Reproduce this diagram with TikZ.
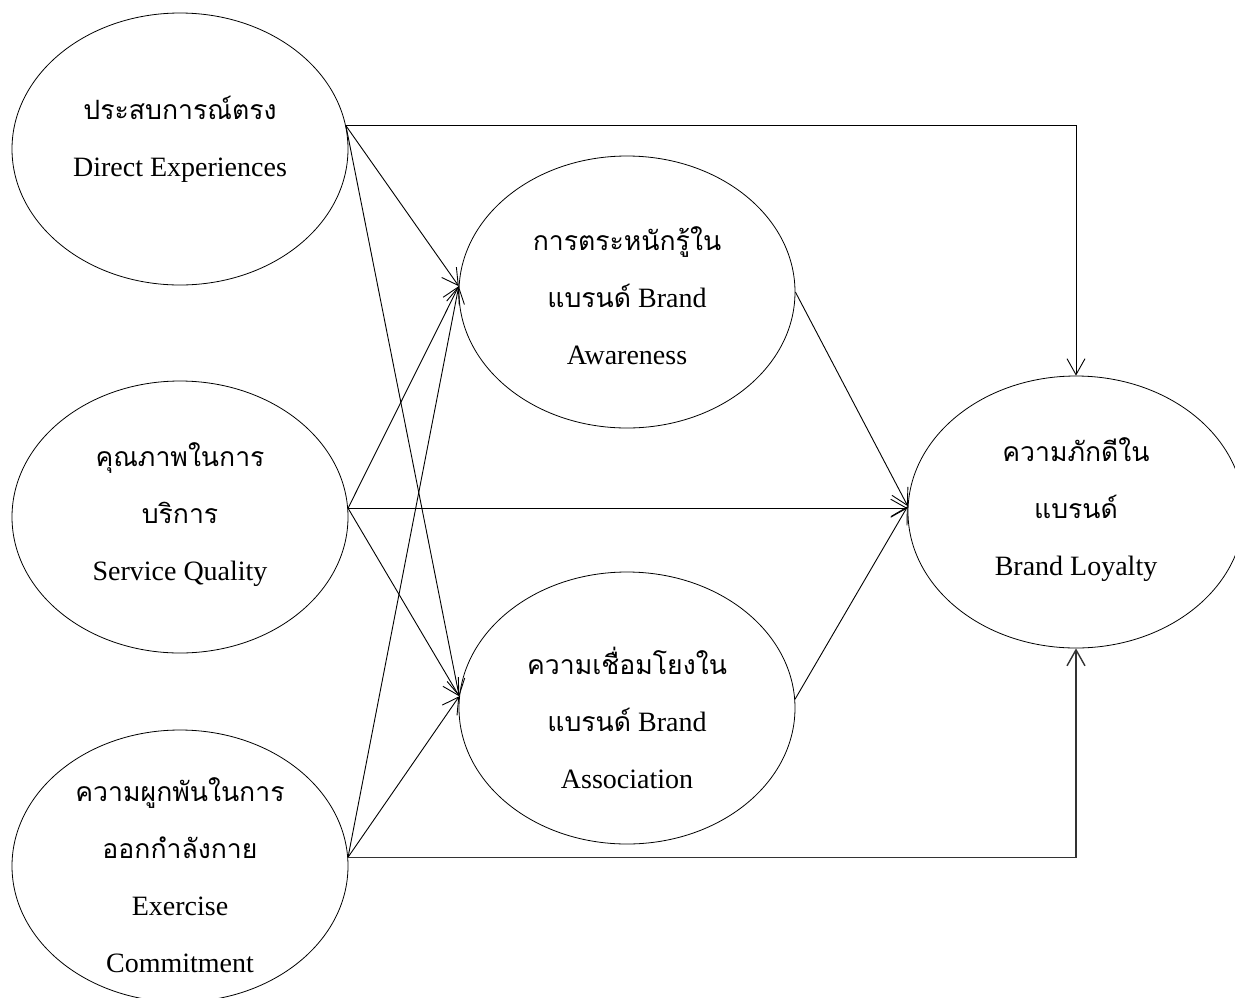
\documentclass[tikz,border=0pt]{standalone}
\usepackage{fontspec}
\setmainfont{Liberation Serif}
\newfontfamily\thaifont[Script=Thai,Scale=0.95]{Loma}
\usetikzlibrary{shapes.geometric,arrows.meta}
\tikzset{
  ell/.style={draw, ellipse, minimum width=336pt, minimum height=272pt, inner sep=0pt, line width=0.8pt},
  lbl/.style={align=center, inner sep=0pt, font=\fontsize{28}{57}\selectfont},
  arr/.style={line width=0.9pt, -{Straight Barb[length=16pt,width=18pt]}},
  base/.style={arr, line width=1.4pt, draw=black!80}
}
\newcommand{\thtxt}[1]{{\thaifont #1}}
\begin{document}
\begin{tikzpicture}[x=1pt, y=-1pt]
\useasboundingbox (0,0) rectangle (1235,997);
\clip (0,0) rectangle (1235,997);
% constructs
\node[ell] (de) at (180,149) {};
\node[ell] (sq) at (180,517) {};
\node[ell] (ec) at (180,866) {};
\node[ell] (ba) at (627,292) {};
\node[ell] (bs) at (627,708) {};
\node[ell] (bl) at (1076,512) {};
% labels
\node[lbl] (deT) at (180,139) {\thtxt{ประสบการณ์ตรง}\\Direct Experiences};
\node[lbl] (sqT) at (180,515) {\thtxt{คุณภาพในการ}\\\thtxt{บริการ}\\Service Quality};
\node[lbl] (ecT) at (180,875) {\thtxt{ความผูกพันในการ}\\\thtxt{ออกกำลังกาย}\\Exercise\\Commitment};
\node[lbl] (baT) at (627,296) {\thtxt{การตระหนักรู้ใน}\\\thtxt{แบรนด์} Brand\\Awareness};
\node[lbl] (bsT) at (627,718) {\thtxt{ความเชื่อมโยงใน}\\\thtxt{แบรนด์} Brand\\Association};
\node[lbl] (blT) at (1076,510) {\thtxt{ความภักดีใน}\\\thtxt{แบรนด์}\\Brand Loyalty};
% paths
\draw[arr] (de.8.5) -| (bl.north);
\draw[arr] (de.8.5) -- (ba.178.6);
\draw[arr] (de.8.5) -- (bs.176.5);
\draw[arr] (sq.3) -- (ba.178.6);
\draw[arr] (sq.3) -- (sq.3 -| bl.west);
\draw[arr] (sq.3) -- (bs.176.5);
\draw[arr] (ec.3) -- (ba.178.6);
\draw[arr] (ec.3) -- (bs.176.5);
\draw[base] (ec.3) -| (bl.south);
\draw[arr] (ba.east) -- (bl.178);
\draw[arr] (bs.3) -- (bl.178);
\end{tikzpicture}
\end{document}
